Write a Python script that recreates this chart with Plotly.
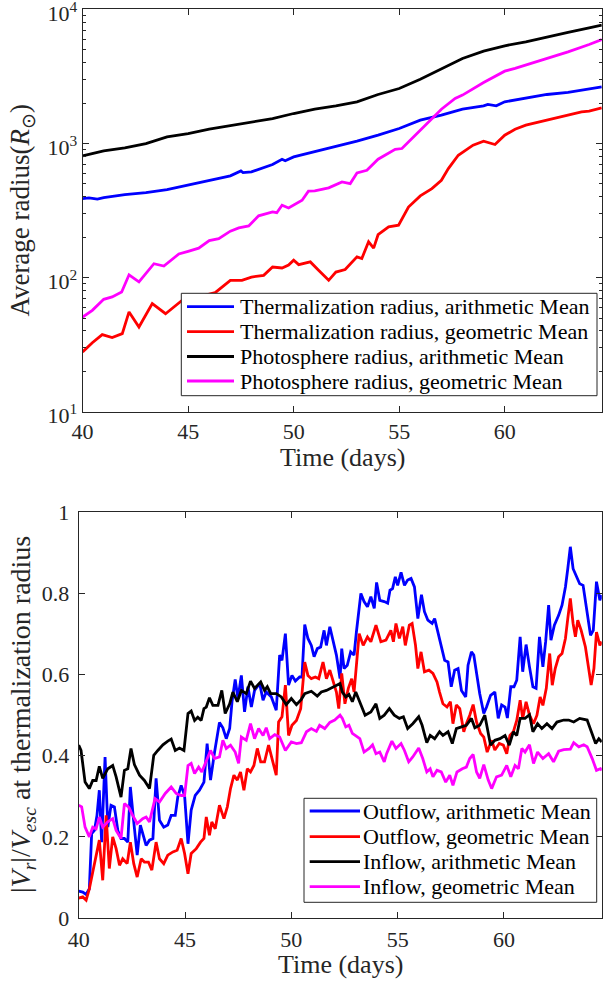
import plotly.graph_objects as go

# ------------------------------------------------------------------
# Top panel: average radii (in solar radii) versus time (days)
# ------------------------------------------------------------------
days_th_arith = [40, 40.3, 40.7, 41, 42, 43, 44, 45, 46, 47, 47.5, 47.6, 48, 49, 49.45, 49.6,
                 50, 51, 52, 53, 54, 55, 56, 57, 58, 59, 59.2, 59.6, 60, 61, 62, 63, 64, 64.6]
r_th_arith = [389, 393, 385, 395, 416, 431, 454, 489, 527, 574, 625, 608, 615, 697, 764, 745,
              795, 866, 944, 1041, 1154, 1294, 1494, 1627, 1804, 1910, 1960, 1910, 2047, 2193,
              2322, 2405, 2542, 2648]

days_th_geo = [40.0, 40.46, 40.93, 41.4, 41.88, 42.2, 42.67, 43.3, 43.93, 44.72, 45.5, 46.28,
               47.0, 47.55, 48.0, 48.58, 49.0, 49.45, 49.76, 50.0, 50.24, 50.79, 51.18, 51.66,
               52.0, 52.44, 53.0, 53.23, 53.55, 53.79, 54.0, 54.5, 54.97, 55.44, 56.0, 56.55,
               57.0, 57.33, 57.8, 58.5, 59.0, 59.54, 60.0, 60.49, 61.0, 61.75, 62.0, 63.0,
               63.64, 64.0, 64.6]
r_th_geo = [27.9, 32.7, 37.6, 35.7, 38.2, 55.5, 42.8, 64, 53.8, 67.8, 71.8, 77.3,
            95.5, 95.5, 101, 104, 120, 118, 124, 135, 125, 131, 113.5, 95.5,
            110, 115, 143, 139, 185, 166, 209, 239, 246, 336, 407, 461,
            532, 650, 818, 972, 1041, 984, 1154, 1279, 1371, 1468, 1494, 1645,
            1722, 1742, 1845]

days_ph_arith = [40, 41, 42, 43, 44, 45, 46, 47, 48, 49, 50, 51, 52, 53, 54, 55, 56, 57, 58,
                 59, 60, 61, 62, 63, 64, 64.6]
r_ph_arith = [809, 881, 929, 1000, 1121, 1187, 1279, 1355, 1452, 1537, 1675, 1804, 1910, 2047,
              2322, 2573, 3019, 3630, 4308, 4885, 5357, 5740, 6184, 6736, 7295, 7640]

days_ph_geo = [40.0, 40.46, 41.0, 41.4, 41.85, 42.2, 42.67, 43.38, 43.85, 44.56, 45.0, 45.5,
               46.0, 46.45, 47.0, 47.4, 47.87, 48.34, 49.0, 49.2, 49.45, 49.76, 50.4, 50.7,
               51.0, 51.66, 52.29, 52.68, 53.0, 53.47, 54.0, 54.81, 55.13, 55.6, 56.0, 56.7,
               57.0, 57.65, 58.0, 59.0, 60.0, 60.49, 61.0, 62.0, 63.0, 64.0, 64.6]
r_ph_geo = [50.8, 57, 68.9, 71.8, 78.2, 105, 92.9, 127, 122, 150, 157, 166,
            189, 195, 222, 235, 243, 289, 309, 305, 347, 331, 378, 441,
            443, 467, 518, 503, 604, 632, 764, 907, 918, 1090, 1259, 1627,
            1804, 2168, 2297, 2851, 3467, 3631, 3846, 4308, 4831, 5483, 5970]

# ------------------------------------------------------------------
# Bottom panel: |V_r| / V_esc at the thermalization radius
# ------------------------------------------------------------------
days_out_arith = [40.00, 40.19, 40.35, 40.50, 40.61, 40.74, 40.86, 40.97, 41.08, 41.24, 41.37,
                  41.52, 41.68, 41.84, 41.99, 42.15, 42.31, 42.43, 42.59, 42.75, 42.90, 43.06,
                  43.17, 43.33, 43.49, 43.64, 43.80, 44.00, 44.19, 44.35, 44.54, 44.66, 44.82,
                  44.98, 45.14, 45.29, 45.48, 45.68, 45.89, 46.04, 46.20, 46.39, 46.62, 46.78,
                  46.94, 47.10, 47.21, 47.36, 47.49, 47.65, 47.80, 47.96, 48.12, 48.27, 48.51,
                  48.67, 48.82, 49.06, 49.29, 49.45, 49.56, 49.72, 49.87, 50.03, 50.19, 50.39,
                  50.50, 50.63, 50.78, 50.94, 51.07, 51.22, 51.38, 51.54, 51.65, 51.81, 51.96,
                  52.12, 52.29, 52.37, 52.48, 52.63, 52.79, 52.95, 53.06, 53.27, 53.42, 53.58,
                  53.74, 53.90, 54.01, 54.16, 54.37, 54.53, 54.64, 54.76, 54.89, 55.00, 55.16,
                  55.32, 55.47, 55.63, 55.79, 55.95, 56.12, 56.26, 56.42, 56.62, 56.74, 56.89,
                  57.05, 57.21, 57.37, 57.52, 57.68, 57.84, 58.00, 58.20, 58.31, 58.47, 58.58,
                  58.74, 58.86, 59.05, 59.18, 59.37, 59.57, 59.73, 59.89, 60.05, 60.16, 60.32,
                  60.47, 60.60, 60.76, 60.88, 61.04, 61.20, 61.36, 61.51, 61.67, 61.83, 61.96,
                  62.10, 62.21, 62.37, 62.57, 62.73, 62.89, 63.00, 63.12, 63.25, 63.41, 63.56,
                  63.72, 63.91, 64.07, 64.20, 64.35, 64.51, 64.60]
v_out_arith = [0.066, 0.064, 0.058, 0.072, 0.208, 0.216, 0.253, 0.315, 0.187, 0.397, 0.224,
               0.278, 0.274, 0.216, 0.196, 0.196, 0.187, 0.323, 0.237, 0.155, 0.229, 0.196,
               0.179, 0.192, 0.196, 0.344, 0.241, 0.224, 0.229, 0.253, 0.253, 0.298, 0.327,
               0.302, 0.183, 0.266, 0.302, 0.315, 0.335, 0.430, 0.340, 0.409, 0.482, 0.469,
               0.442, 0.467, 0.533, 0.588, 0.541, 0.598, 0.508, 0.570, 0.520, 0.561, 0.578,
               0.537, 0.557, 0.545, 0.512, 0.648, 0.635, 0.701, 0.574, 0.598, 0.584, 0.594,
               0.594, 0.723, 0.689, 0.672, 0.644, 0.664, 0.668, 0.709, 0.672, 0.718, 0.685,
               0.648, 0.590, 0.664, 0.615, 0.623, 0.656, 0.648, 0.705, 0.800, 0.780, 0.767,
               0.792, 0.763, 0.827, 0.783, 0.780, 0.776, 0.808, 0.812, 0.841, 0.820, 0.852,
               0.820, 0.833, 0.837, 0.816, 0.738, 0.797, 0.755, 0.734, 0.726, 0.738, 0.705,
               0.664, 0.635, 0.631, 0.570, 0.611, 0.615, 0.561, 0.545, 0.623, 0.656, 0.648,
               0.586, 0.553, 0.504, 0.520, 0.549, 0.557, 0.492, 0.525, 0.520, 0.493, 0.570,
               0.570, 0.586, 0.693, 0.607, 0.674, 0.619, 0.570, 0.566, 0.693, 0.619, 0.681,
               0.771, 0.685, 0.722, 0.746, 0.771, 0.816, 0.861, 0.915, 0.861, 0.841, 0.824,
               0.820, 0.755, 0.697, 0.709, 0.829, 0.783, 0.796]

days_out_geo = [40.00, 40.19, 40.35, 40.50, 40.66, 40.82, 40.97, 41.13, 41.29, 41.44, 41.60,
                41.76, 41.92, 42.07, 42.28, 42.43, 42.59, 42.75, 42.94, 43.09, 43.28, 43.44,
                43.64, 43.80, 44.00, 44.19, 44.43, 44.63, 44.82, 44.98, 45.14, 45.29, 45.53,
                45.73, 45.89, 46.00, 46.15, 46.26, 46.42, 46.62, 46.83, 46.99, 47.14, 47.30,
                47.46, 47.61, 47.77, 47.93, 48.08, 48.24, 48.40, 48.56, 48.74, 48.93, 49.14,
                49.29, 49.40, 49.56, 49.72, 49.87, 50.03, 50.24, 50.44, 50.63, 50.78, 50.94,
                51.13, 51.29, 51.49, 51.65, 51.81, 51.96, 52.12, 52.23, 52.37, 52.52, 52.68,
                52.84, 52.95, 53.19, 53.38, 53.58, 53.74, 53.98, 54.21, 54.45, 54.68, 54.80,
                54.92, 55.08, 55.24, 55.36, 55.55, 55.68, 55.84, 55.95, 56.10, 56.26, 56.47,
                56.66, 56.85, 56.97, 57.13, 57.32, 57.48, 57.60, 57.76, 57.92, 58.11, 58.23,
                58.39, 58.55, 58.71, 58.90, 59.05, 59.21, 59.42, 59.57, 59.78, 59.97, 60.13,
                60.28, 60.44, 60.60, 60.76, 60.88, 61.04, 61.20, 61.39, 61.55, 61.70, 61.83,
                61.99, 62.15, 62.27, 62.41, 62.57, 62.73, 62.89, 63.00, 63.12, 63.25, 63.36,
                63.47, 63.63, 63.83, 63.99, 64.10, 64.23, 64.35, 64.51, 64.60]
v_out_geo = [0.049, 0.052, 0.044, 0.072, 0.113, 0.150, 0.192, 0.093, 0.253, 0.122, 0.200,
             0.171, 0.130, 0.146, 0.134, 0.187, 0.134, 0.101, 0.146, 0.138, 0.138, 0.118,
             0.187, 0.146, 0.134, 0.155, 0.163, 0.167, 0.196, 0.159, 0.109, 0.159, 0.171,
             0.187, 0.196, 0.249, 0.204, 0.237, 0.220, 0.278, 0.245, 0.274, 0.319, 0.352,
             0.340, 0.360, 0.315, 0.368, 0.360, 0.376, 0.418, 0.385, 0.385, 0.426, 0.385,
             0.352, 0.483, 0.496, 0.574, 0.450, 0.475, 0.487, 0.516, 0.631, 0.598, 0.590,
             0.594, 0.590, 0.631, 0.590, 0.611, 0.586, 0.557, 0.516, 0.603, 0.528, 0.566,
             0.590, 0.557, 0.701, 0.672, 0.693, 0.681, 0.722, 0.681, 0.685, 0.709, 0.681,
             0.726, 0.689, 0.718, 0.672, 0.722, 0.726, 0.672, 0.615, 0.656, 0.607, 0.611,
             0.603, 0.582, 0.557, 0.528, 0.520, 0.533, 0.479, 0.525, 0.516, 0.459, 0.479,
             0.500, 0.526, 0.483, 0.455, 0.446, 0.409, 0.438, 0.414, 0.430, 0.426, 0.405,
             0.450, 0.459, 0.487, 0.537, 0.492, 0.533, 0.500, 0.479, 0.500, 0.545, 0.524,
             0.566, 0.652, 0.574, 0.615, 0.644, 0.652, 0.689, 0.738, 0.788, 0.726, 0.693,
             0.734, 0.709, 0.668, 0.607, 0.574, 0.615, 0.705, 0.672, 0.681]

days_in_arith = [40.00, 40.11, 40.30, 40.50, 40.66, 40.82, 40.97, 41.13, 41.37, 41.60, 41.76,
                 41.99, 42.15, 42.31, 42.46, 42.62, 42.86, 43.09, 43.33, 43.53, 43.72, 43.96,
                 44.19, 44.35, 44.54, 44.74, 44.95, 45.14, 45.29, 45.45, 45.60, 45.76, 45.89,
                 46.00, 46.15, 46.31, 46.55, 46.73, 46.89, 47.10, 47.25, 47.46, 47.65, 47.88,
                 48.08, 48.27, 48.56, 48.74, 48.87, 49.03, 49.29, 49.53, 49.76, 50.00, 50.24,
                 50.47, 50.63, 50.94, 51.22, 51.41, 51.65, 51.88, 52.17, 52.29, 52.40, 52.56,
                 52.71, 52.87, 53.03, 53.27, 53.47, 53.74, 53.98, 54.16, 54.37, 54.61, 54.84,
                 55.08, 55.27, 55.47, 55.71, 55.99, 56.15, 56.37, 56.53, 56.74, 56.97, 57.13,
                 57.37, 57.57, 57.76, 58.00, 58.23, 58.47, 58.63, 58.86, 59.10, 59.37, 59.57,
                 59.81, 60.05, 60.25, 60.44, 60.60, 60.76, 60.99, 61.20, 61.36, 61.58, 61.78,
                 62.02, 62.26, 62.49, 62.81, 63.04, 63.28, 63.56, 63.91, 64.15, 64.31, 64.46,
                 64.60]
v_in_arith = [0.426, 0.413, 0.335, 0.319, 0.339, 0.339, 0.374, 0.344, 0.368, 0.376, 0.348,
              0.298, 0.364, 0.368, 0.418, 0.378, 0.352, 0.339, 0.319, 0.401, 0.413, 0.427,
              0.436, 0.441, 0.413, 0.419, 0.413, 0.504, 0.510, 0.487, 0.495, 0.487, 0.516,
              0.520, 0.543, 0.524, 0.524, 0.561, 0.504, 0.528, 0.557, 0.533, 0.561, 0.553,
              0.584, 0.566, 0.582, 0.561, 0.570, 0.553, 0.553, 0.545, 0.526, 0.541, 0.526,
              0.539, 0.553, 0.559, 0.547, 0.557, 0.561, 0.567, 0.574, 0.578, 0.557, 0.545,
              0.551, 0.533, 0.557, 0.528, 0.500, 0.508, 0.528, 0.492, 0.500, 0.516, 0.500,
              0.492, 0.496, 0.467, 0.479, 0.496, 0.475, 0.432, 0.450, 0.442, 0.459, 0.450,
              0.459, 0.430, 0.467, 0.471, 0.475, 0.492, 0.469, 0.475, 0.500, 0.426, 0.438,
              0.442, 0.450, 0.426, 0.459, 0.450, 0.492, 0.492, 0.501, 0.459, 0.479, 0.467,
              0.479, 0.467, 0.483, 0.488, 0.488, 0.483, 0.492, 0.488, 0.455, 0.430, 0.442,
              0.434]

days_in_geo = [40.00, 40.14, 40.30, 40.50, 40.66, 40.82, 40.97, 41.13, 41.37, 41.60, 41.76,
               41.99, 42.15, 42.34, 42.54, 42.75, 43.01, 43.17, 43.33, 43.59, 43.80, 44.07,
               44.35, 44.58, 44.82, 44.98, 45.14, 45.29, 45.45, 45.64, 45.79, 46.00, 46.20,
               46.39, 46.62, 46.78, 46.94, 47.14, 47.36, 47.52, 47.65, 47.88, 48.08, 48.27,
               48.46, 48.67, 48.82, 48.98, 49.22, 49.45, 49.72, 50.00, 50.24, 50.47, 50.71,
               50.94, 51.18, 51.33, 51.57, 51.81, 52.04, 52.29, 52.40, 52.56, 52.71, 52.87,
               53.03, 53.22, 53.42, 53.66, 53.82, 53.98, 54.16, 54.37, 54.48, 54.73, 54.92,
               55.16, 55.32, 55.52, 55.71, 55.99, 56.18, 56.37, 56.53, 56.66, 56.85, 57.05,
               57.26, 57.45, 57.60, 57.79, 58.04, 58.23, 58.39, 58.55, 58.71, 58.86, 59.05,
               59.26, 59.42, 59.65, 59.89, 60.13, 60.32, 60.52, 60.68, 60.84, 60.99, 61.20,
               61.39, 61.58, 61.83, 62.10, 62.33, 62.57, 62.81, 63.12, 63.28, 63.52, 63.75,
               63.91, 64.15, 64.35, 64.54, 64.60]
v_in_geo = [0.278, 0.274, 0.224, 0.200, 0.224, 0.220, 0.249, 0.224, 0.237, 0.245, 0.216,
            0.196, 0.282, 0.274, 0.253, 0.233, 0.245, 0.249, 0.237, 0.294, 0.286, 0.307,
            0.323, 0.307, 0.302, 0.302, 0.376, 0.381, 0.356, 0.372, 0.360, 0.385, 0.413,
            0.393, 0.397, 0.438, 0.418, 0.426, 0.409, 0.381, 0.446, 0.438, 0.479, 0.442,
            0.467, 0.450, 0.469, 0.442, 0.452, 0.446, 0.413, 0.434, 0.430, 0.432, 0.459,
            0.467, 0.460, 0.475, 0.467, 0.482, 0.488, 0.500, 0.492, 0.471, 0.475, 0.455,
            0.450, 0.442, 0.409, 0.418, 0.427, 0.405, 0.409, 0.385, 0.405, 0.436, 0.418,
            0.430, 0.413, 0.385, 0.397, 0.419, 0.393, 0.360, 0.368, 0.348, 0.364, 0.360,
            0.335, 0.352, 0.327, 0.360, 0.368, 0.372, 0.393, 0.403, 0.360, 0.344, 0.378,
            0.340, 0.319, 0.348, 0.352, 0.376, 0.348, 0.376, 0.368, 0.418, 0.409, 0.427,
            0.381, 0.409, 0.393, 0.405, 0.385, 0.411, 0.415, 0.416, 0.432, 0.422, 0.427,
            0.422, 0.393, 0.364, 0.368, 0.364]

top_names = ["Thermalization radius, arithmetic Mean",
             "Thermalization radius, geometric Mean",
             "Photosphere radius, arithmetic Mean",
             "Photosphere radius, geometric Mean"]
bottom_names = ["Outflow, arithmetic Mean",
                "Outflow, geometric Mean",
                "Inflow, arithmetic Mean",
                "Inflow, geometric Mean"]
log_tick_values = [10, 100, 1000, 10000]
log_tick_labels = ["10<sup>1</sup>", "10<sup>2</sup>", "10<sup>3</sup>", "10<sup>4</sup>"]
time_ticks = [40, 45, 50, 55, 60]

colors = ["#0000FF", "#FF0000", "#000000", "#FF00FF"]
LW = 2.8
FONT = "Liberation Serif"
AX = "#262626"
W, H = 603, 985

fig = go.Figure()

top_series = [(days_th_arith, r_th_arith), (days_th_geo, r_th_geo),
              (days_ph_arith, r_ph_arith), (days_ph_geo, r_ph_geo)]
for (d, v), c, n in zip(top_series, colors, top_names):
    fig.add_trace(go.Scatter(x=d, y=v, mode="lines", name=n, showlegend=False,
                             line=dict(color=c, width=LW), xaxis="x", yaxis="y"))

bottom_series = [(days_out_arith, v_out_arith), (days_out_geo, v_out_geo),
                 (days_in_arith, v_in_arith), (days_in_geo, v_in_geo)]
for (d, v), c, n in zip(bottom_series, colors, bottom_names):
    fig.add_trace(go.Scatter(x=d, y=v, mode="lines", name=n, showlegend=False,
                             line=dict(color=c, width=LW), xaxis="x2", yaxis="y2"))

minor_log = [m * 10 ** k for k in range(1, 4) for m in range(2, 10)]

axis_common = dict(showline=True, linecolor=AX, linewidth=1, mirror="ticks",
                   ticks="inside", ticklen=6, tickcolor=AX, tickwidth=1,
                   showgrid=False, zeroline=False, automargin=False,
                   ticklabeloverflow="allow",
                   tickfont=dict(family=FONT, size=22, color=AX))

fig.update_layout(
    width=W, height=H,
    margin=dict(l=0, r=0, t=0, b=0),
    paper_bgcolor="white", plot_bgcolor="white",
    font=dict(family=FONT, color=AX),
    showlegend=False,
    xaxis=dict(domain=[0.137, 0.998], range=[40, 64.6], anchor="y",
               tickmode="array", tickvals=time_ticks, **axis_common),
    yaxis=dict(domain=[0.582, 0.9904], type="log", range=[1, 4], anchor="x",
               tickmode="array", tickvals=log_tick_values, ticktext=log_tick_labels,
               ticklabelshift=4,
               minor=dict(tickmode="array", tickvals=minor_log, ticks="inside",
                          ticklen=3, tickcolor=AX),
               **axis_common),
    xaxis2=dict(domain=[0.1305, 0.998], range=[40, 64.6], anchor="y2",
                tickmode="array", tickvals=time_ticks, ticklabelstandoff=2,
                **axis_common),
    yaxis2=dict(domain=[0.068, 0.4799], range=[0, 1], anchor="x2",
                tick0=0, dtick=0.2, ticklabelstandoff=4, **axis_common),
)


def px_x(p):
    return p / W


def px_y(p):
    return 1 - p / H


def add_legend_box(box, line_x, text_x, rows, names):
    """Boxed legend: white panel, coloured line samples and labels."""
    x0, x1, y0, y1 = box
    fig.add_shape(type="rect", xref="paper", yref="paper",
                  x0=px_x(x0), x1=px_x(x1), y0=px_y(y1), y1=px_y(y0),
                  fillcolor="white", line=dict(color=AX, width=1), layer="above")
    for r, c, n in zip(rows, colors, names):
        fig.add_shape(type="line", xref="paper", yref="paper",
                      x0=px_x(line_x[0]), x1=px_x(line_x[1]), y0=px_y(r), y1=px_y(r),
                      line=dict(color=c, width=LW), layer="above")
        fig.add_annotation(text=n, xref="paper", yref="paper", x=px_x(text_x), y=px_y(r),
                           xanchor="left", yanchor="middle", showarrow=False,
                           font=dict(family=FONT, size=22, color="#000000"))


add_legend_box((181.3, 597, 293.3, 395.7), (187, 234), 237.5,
               [306.7, 331.7, 356.5, 381.0], top_names)
add_legend_box((304, 596.7, 798.3, 902.3), (309.7, 360), 360.5,
               [811.0, 836.7, 861.7, 886.7], bottom_names)

title_font = dict(family=FONT, size=26, color=AX)
fig.add_annotation(text="Average radius(<i>R</i><sub>⊙</sub>)", textangle=-90,
                   xref="paper", yref="paper", x=px_x(22), y=px_y(210.6),
                   xanchor="center", yanchor="middle", showarrow=False,
                   font=dict(family=FONT, size=27, color=AX))
fig.add_annotation(text="|<i>V<sub>r</sub></i>|/<i>V<sub>esc</sub></i> at thermalization radius",
                   textangle=-90, xref="paper", yref="paper", x=px_x(22), y=px_y(715),
                   xanchor="center", yanchor="middle", showarrow=False,
                   font=dict(family=FONT, size=28, color=AX))
fig.add_annotation(text="Time (days)", xref="paper", yref="paper",
                   x=px_x(342.4), y=px_y(458), xanchor="center", yanchor="middle",
                   showarrow=False, font=title_font)
fig.add_annotation(text="Time (days)", xref="paper", yref="paper",
                   x=px_x(340.4), y=px_y(964), xanchor="center", yanchor="middle",
                   showarrow=False, font=title_font)

fig.write_html("out.html")
